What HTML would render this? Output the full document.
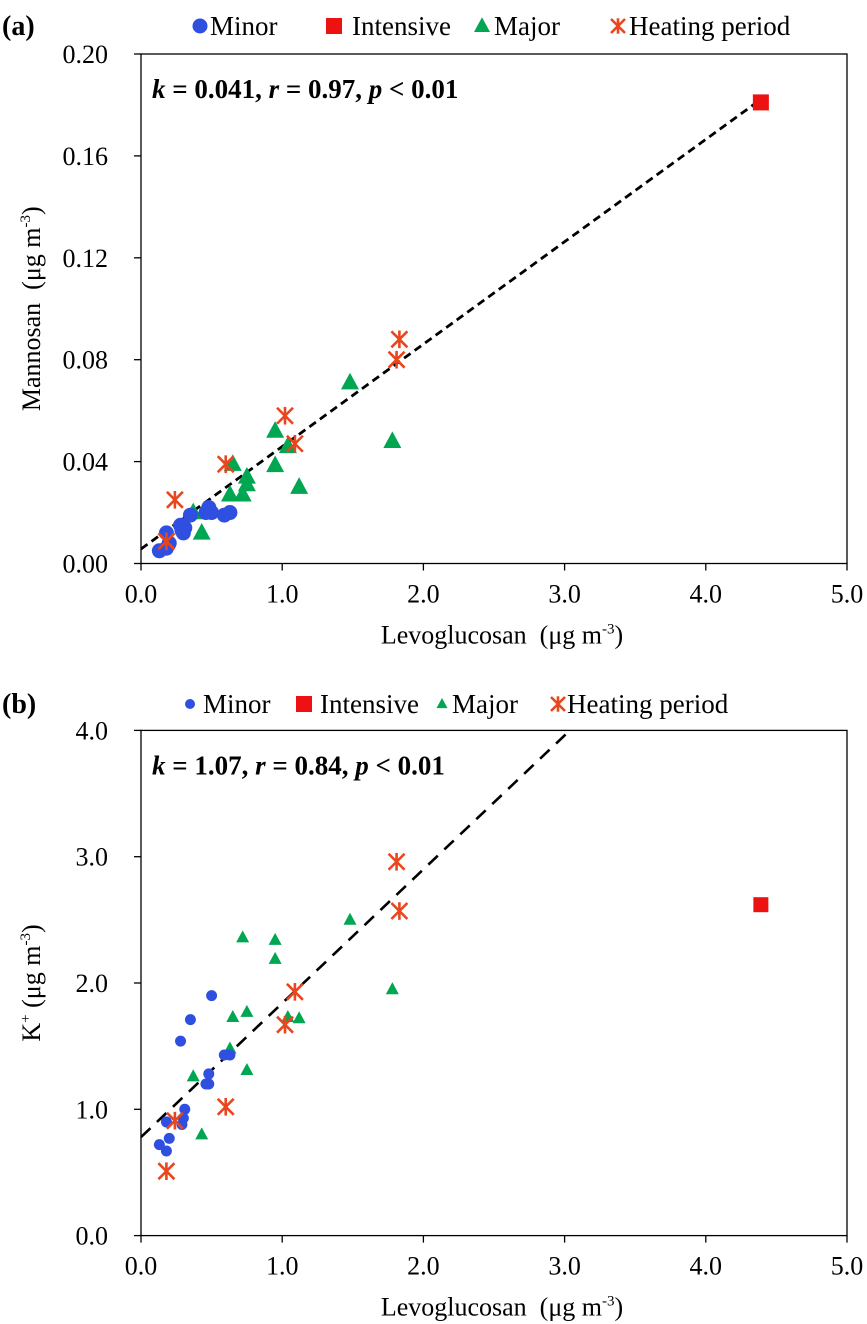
<!DOCTYPE html>
<html><head><meta charset="utf-8"><style>
body{margin:0;background:#fff}
svg{display:block;font-family:"Liberation Serif",serif}
</style></head><body>
<svg id="c" width="867" height="1324" viewBox="0 0 867 1324"></svg>
<script>
const minorX=[0.50,0.35,0.28,0.59,0.63,0.48,0.46,0.48,0.31,0.30,0.29,0.18,0.20,0.13,0.18];
const minorA=[0.020,0.019,0.015,0.019,0.020,0.022,0.020,0.021,0.014,0.012,0.013,0.012,0.008,0.005,0.006];
const minorB=[1.90,1.71,1.54,1.43,1.43,1.28,1.20,1.20,1.00,0.93,0.88,0.90,0.77,0.72,0.67];
const intX=[4.39];
const intA=[0.181];
const intB=[2.62];
const majorX=[0.37,0.43,0.63,0.65,0.72,0.75,0.75,0.95,0.95,1.04,1.12,1.48,1.78];
const majorA=[0.020,0.012,0.027,0.039,0.027,0.034,0.031,0.052,0.0385,0.046,0.030,0.071,0.048];
const majorB=[1.26,0.80,1.48,1.73,2.36,1.31,1.77,2.34,2.19,1.73,1.72,2.50,1.95];
const heatX=[1.83,1.81,1.02,1.09,0.60,0.24,0.18];
const heatA=[0.088,0.080,0.058,0.047,0.039,0.025,0.0087];
const heatB=[2.57,2.96,1.67,1.93,1.02,0.91,0.51];
const xTicks=["0.0","1.0","2.0","3.0","4.0","5.0"];
const aTicks=["0.00","0.04","0.08","0.12","0.16","0.20"];
const bTicks=["0.0","1.0","2.0","3.0","4.0"];
const fitA=[0.0057,0.0402];
const fitB=[0.78,1.06];

const NS="http://www.w3.org/2000/svg";
const svg=document.getElementById('c');
function mk(t,at,parent){const e=document.createElementNS(NS,t);for(const k in at)e.setAttribute(k,at[k]);(parent||svg).appendChild(e);return e;}
const L=141,R=847;
const sx=v=>L+(R-L)*v/5;

function panel(name,top,bot,ymax,ticks,yTitle,ann,pa,fit,letter,legY,big,lp){
  const g=mk('g',{});
  
  
  const sy=v=>bot-(bot-top)*v/ymax;
  const box=mk('rect',{x:L,y:top,width:R-L,height:bot-top,fill:'none',stroke:'#000','stroke-width':1.3},g);
  
  
  ticks.forEach((t,i)=>{const v=ymax*i/(ticks.length-1);const y=sy(v);
    mk('line',{x1:L-7,x2:L,y1:y,y2:y,stroke:'#000','stroke-width':1.3},g);
    const tx=mk('text',{x:L-33,y:y+9,'text-anchor':'end','font-size':26},g);tx.textContent=t;
    
    });
  xTicks.forEach((t,i)=>{const x=sx(i);
    mk('line',{x1:x,x2:x,y1:bot,y2:bot+7,stroke:'#000','stroke-width':1.3},g);
    const tx=mk('text',{x:x,y:bot+39,'text-anchor':'middle','font-size':26},g);tx.textContent=t;
    
    });
  const xt=mk('text',{x:(L+R)/2+8,y:bot+80,'text-anchor':'middle','font-size':26},g);
  xt.innerHTML='Levoglucosan&#160;&#160;(μg m<tspan font-size="15" dy="-10">-3</tspan><tspan dy="10">)</tspan>';
  
  
  const yt=mk('text',{x:0,y:0,'text-anchor':'middle','font-size':26,transform:`translate(40,${(top+bot)/2}) rotate(-90)`},g);
  yt.innerHTML=yTitle;
  
  
  const an=mk('text',{x:152,y:top+44,'font-size':27,'font-weight':'bold'},g);
  an.innerHTML=ann;
  
  
  const lt=mk('text',{x:2,y:legY+9,'font-size':28,'font-weight':'bold'},g);lt.textContent=letter;
  
  
  let x2=5; if(fit[0]+fit[1]*5>ymax) x2=(ymax-fit[0])/fit[1];
  if(name==='panel-a') x2=4.39;
  const fl=mk('line',{x1:sx(0),y1:sy(fit[0]),x2:sx(x2),y2:sy(fit[0]+fit[1]*x2),stroke:'#000','stroke-width':big?2.8:2.6,'stroke-dasharray':big?'8,5':'13,9'},g);
  
  
  const cr=big?7.5:5.5, ts=big?9:6.5, ss=big?8:7.5, as=8;
  function tri(x,y,s,p){return mk('polygon',{points:`${x},${y-s*1.1} ${x-s},${y+s*0.75} ${x+s},${y+s*0.75}`,fill:'#00a651'},p);}
  function ast(x,y,s,p){const q=mk('g',{stroke:'#e8461e','stroke-width':2.6},p);
    mk('line',{x1:x-s,y1:y-s,x2:x+s,y2:y+s},q);mk('line',{x1:x-s,y1:y+s,x2:x+s,y2:y-s},q);mk('line',{x1:x,y1:y-s*1.1,x2:x,y2:y+s*1.1},q);return q;}
  majorX.forEach((v,i)=>{const e=tri(sx(v),sy(pa.major[i]),ts,g);
    
    });
  minorX.forEach((v,i)=>{const e=mk('circle',{cx:sx(v),cy:sy(pa.minor[i]),r:cr,fill:'#2f4fe0'},g);
    
    });
  heatX.forEach((v,i)=>{const e=ast(sx(v),sy(pa.heat[i]),as,g);
    
    });
  intX.forEach((v,i)=>{const e=mk('rect',{x:sx(v)-ss,y:sy(pa.int[i])-ss,width:ss*2,height:ss*2,fill:'#ee1111'},g);
    
    });
  const lg=mk('g',{},g);
  
  
  const ly=legY;
  mk('circle',{cx:lp[0],cy:ly,r:big?7.5:5,fill:'#2f4fe0'},lg);
  let t=mk('text',{x:lp[1],y:ly+9,'font-size':27},lg);t.textContent='Minor';
  mk('rect',{x:lp[2]-8,y:ly-8,width:16,height:16,fill:'#ee1111'},lg);
  t=mk('text',{x:lp[3],y:ly+9,'font-size':27},lg);t.textContent='Intensive';
  tri(lp[4],ly,big?8:5.5,lg);
  t=mk('text',{x:lp[5],y:ly+9,'font-size':27},lg);t.textContent='Major';
  ast(lp[6],ly,big?7:7,lg);
  t=mk('text',{x:lp[7],y:ly+9,'font-size':27},lg);t.textContent='Heating period';
}
panel('panel-a',54,563.5,0.2,aTicks,'Mannosan&#160;&#160;(μg m<tspan font-size="15" dy="-10">-3</tspan><tspan dy="10">)</tspan>',
 '<tspan font-style="italic">k</tspan> = 0.041, <tspan font-style="italic">r</tspan> = 0.97, <tspan font-style="italic">p</tspan> &lt; 0.01',
 {minor:minorA,major:majorA,heat:heatA,int:intA},fitA,'(a)',26,true,[200,210,334,352,482,494,618,629]);
panel('panel-b',730.4,1235.6,4,bTicks,'K<tspan font-size="15" dy="-10">+</tspan><tspan dy="10">&#160;(μg m</tspan><tspan font-size="15" dy="-10">-3</tspan><tspan dy="10">)</tspan>',
 '<tspan font-style="italic">k</tspan> = 1.07, <tspan font-style="italic">r</tspan> = 0.84, <tspan font-style="italic">p</tspan> &lt; 0.01',
 {minor:minorB,major:majorB,heat:heatB,int:intB},fitB,'(b)',704,false,[190,203,304,320,442,452,558,567]);
</script>
</body></html>
